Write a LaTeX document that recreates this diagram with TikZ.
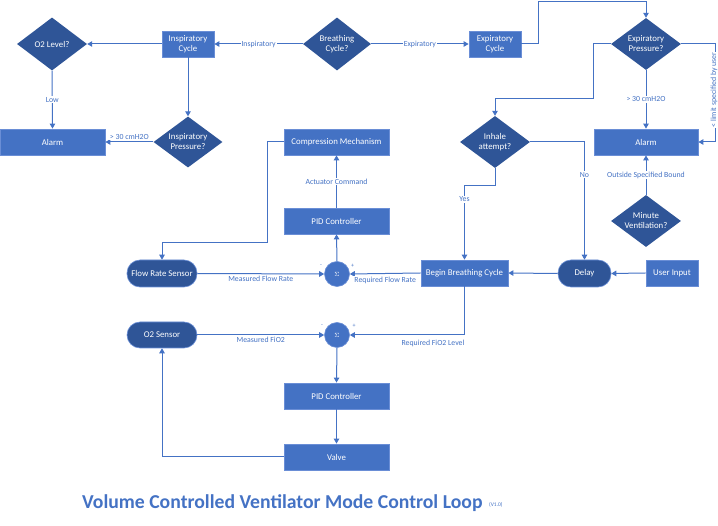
\documentclass[tikz,border=0pt]{standalone}
\usepackage{fontspec}
\setmainfont{Carlito}
\usetikzlibrary{shapes.geometric,arrows.meta}
\definecolor{boxblue}{HTML}{4472C4}
\definecolor{darkblue}{HTML}{2F5597}
\definecolor{lineblue}{HTML}{4472C4}
\definecolor{edgeblue}{HTML}{6A8ED6}
\tikzset{
  box/.style={rectangle, fill=boxblue, draw=edgeblue, line width=0.8pt, text=white,
    font=\fontsize{8.8}{10}\selectfont, align=center, inner sep=0pt, minimum height=26pt},
  dia/.style={diamond, fill=darkblue, draw=none, text=white, font=\fontsize{8.8}{10}\selectfont,
    align=center, inner sep=0pt, shape aspect=1.35, minimum width=70pt, minimum height=52pt},
  pill/.style={rectangle, rounded corners=13pt, fill=darkblue, draw=edgeblue, line width=0.6pt,
    text=white, font=\fontsize{8.8}{10}\selectfont, inner sep=0pt, minimum height=27pt},
  sumnode/.style={circle, fill=boxblue, draw=edgeblue, line width=0.6pt, text=white,
    font=\fontsize{6.5}{7}\selectfont, minimum size=25pt, inner sep=0pt},
  conn/.style={draw=lineblue, line width=1pt, -{Triangle[length=5pt,width=5.5pt]}},
  lab/.style={text=lineblue, font=\fontsize{7.8}{9}\selectfont, fill=white, inner sep=1pt},
  sign/.style={text=lineblue, font=\fontsize{6}{7}\selectfont, inner sep=0pt},
}
\begin{document}
\begin{tikzpicture}[x=1pt,y=-1pt]
\useasboundingbox (0,0) rectangle (718,526);
% nodes
\node[dia, minimum width=68pt, minimum height=53pt] (bc) at (337,44) {Breathing\\Cycle?};
\node[box, minimum width=52pt] (ic) at (188,44) {Inspiratory\\Cycle};
\node[dia, minimum height=53pt] (o2l) at (52,44) {O2 Level?};
\node[box, minimum width=105pt] (alL) at (52.5,142) {Alarm};
\node[dia, minimum width=69pt, minimum height=51pt] (ip) at (188,142) {Inspiratory\\Pressure?};
\node[box, minimum width=105pt] (cm) at (336.5,142) {Compression Mechanism};
\node[box, minimum width=105pt] (pid1) at (336.5,221) {PID Controller};
\node[sumnode] (s1) at (337,274) {$\Sigma$};
\node[pill, minimum width=70pt] (frs) at (162,273.5) {Flow Rate Sensor};
\node[box, minimum width=87pt] (bbc) at (464.5,273) {Begin Breathing Cycle};
\node[pill, minimum width=53pt] (dl) at (584.5,273.5) {Delay};
\node[box, minimum width=52pt] (ui) at (672,273) {User Input};
\node[dia] (ia) at (495,142) {Inhale\\attempt?};
\node[box, minimum width=104pt] (alR) at (646,142) {Alarm};
\node[dia] (ep) at (646,44) {Expiratory\\Pressure?};
\node[box, minimum width=52pt] (ec) at (495,44) {Expiratory\\Cycle};
\node[dia] (mv) at (646,221) {Minute\\Ventilation?};
\node[pill, minimum width=70pt, minimum height=26pt] (o2s) at (162,335) {O2 Sensor};
\node[sumnode] (s2) at (337,335) {$\Sigma$};
\node[box, minimum width=105pt] (pid2) at (336.5,396) {PID Controller};
\node[box, minimum width=105pt] (valve) at (336.5,457) {Valve};
% connectors
\draw[conn] (bc.west) -- node[lab]{Inspiratory} (ic.east);
\draw[conn] (bc.east) -- node[lab]{Expiratory} (ec.west);
\draw[conn] (ic.west) -- (o2l.east);
\draw[conn] (o2l.south) -- node[lab]{Low} (alL.north);
\draw[conn] (ic.south) -- (ip.north);
\draw[conn] (ip.west) -- node[lab, above=1pt]{> 30 cmH2O} (alL.east);
\draw[conn] (cm.west) -| (267,243) -| (frs.north);
\draw[conn] (pid1.north) -- node[lab]{Actuator Command} (cm.south);
\draw[conn] (s1.north) -- (pid1.south);
\draw[conn] (frs.east) -- node[lab, below=1pt]{Measured Flow Rate} (s1.west);
\draw[conn] (bbc.west) -- node[lab, below=2.5pt]{Required Flow Rate} (s1.east);
\node[sign] (m1) at (321,266) {-};
\node[sign] (p1) at (352.5,266) {+};
\draw[conn] (ui.west) -- (dl.east);
\draw[conn] (dl.west) -- (bbc.east);
\draw[conn] (ia.south) -- (495,186) -| node[lab, pos=0.59]{Yes} (bbc.north);
\draw[conn] (ia.east) -| node[lab, pos=0.64]{No} (dl.north);
\draw[conn] (ec.east) -- (538,44) |- (646,1.2) -- (ep.north);
\draw[conn] (ep.west) -| (593,99) -| (ia.north);
\draw[conn] (ep.south) -- node[lab]{> 30 cmH2O} (alR.north);
\draw[conn] (ep.east) -| (715.5,142) -- (alR.east);
\node[lab, rotate=90] (lim) at (714,90) {< limit specified by user};
\draw[conn] (mv.north) -- node[lab]{Outside Specified Bound} (alR.south);
\draw[conn] (bbc.south) |- (s2.east);
\node[lab] (rfl) at (433,343.5) {Required FiO2 Level};
\draw[conn] (o2s.east) -- node[lab, below=1pt]{Measured FiO2} (s2.west);
\node[sign] (m2) at (322,326) {-};
\node[sign] (p2) at (354,326) {+};
\draw[conn] (s2.south) -- (pid2.north);
\draw[conn] (pid2.south) -- (valve.north);
\draw[conn] (valve.west) -| (o2s.south);
% title
\node[anchor=base west, inner sep=0pt, text=boxblue, font=\fontsize{19.7}{22}\bfseries\selectfont] (title) at (82,508) {Volume Controlled Ventilator Mode Control Loop};
\node[anchor=base west, inner sep=0pt, text=boxblue, font=\fontsize{5.5}{6}\selectfont] (ver) at (489,507) {(V1.0)};
\end{tikzpicture}
\end{document}
